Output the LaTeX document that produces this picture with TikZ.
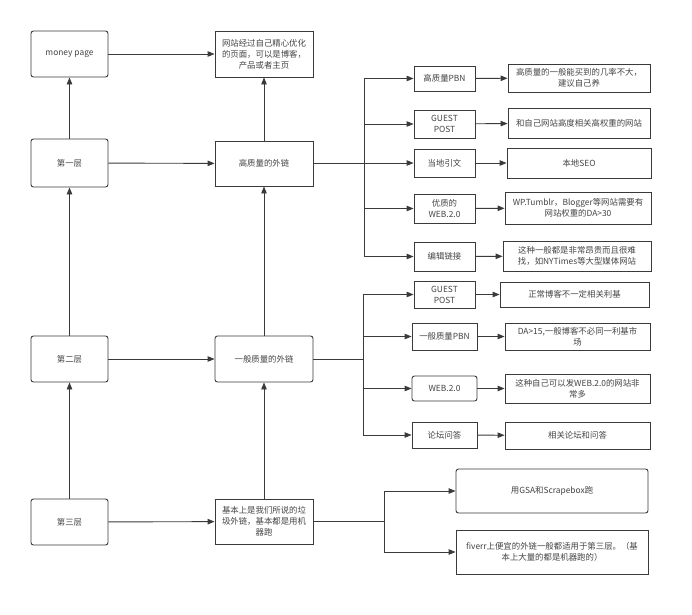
\documentclass[tikz,border=0pt]{standalone}
\usepackage{fontspec}
\setmainfont{Noto Sans CJK SC}
\newfontfamily\cjk{Noto Sans CJK SC}
\usetikzlibrary{arrows.meta}
\definecolor{lc}{HTML}{3A3A3A}
\definecolor{tc}{HTML}{444444}
\tikzset{
  box/.style={draw=lc, line width=0.9pt, fill=white, align=center, text=tc,
    font=\cjk\fontsize{8.4}{11}\selectfont, inner sep=1pt},
  rbox/.style={box, rounded corners=2.5pt},
  arr/.style={draw=lc, line width=0.9pt, -{Triangle[length=7pt,width=5.5pt]}},
  ln/.style={draw=lc, line width=0.9pt},
}
\begin{document}
\begin{tikzpicture}[x=1pt,y=-1pt]
\useasboundingbox[fill=white] (0,0) rectangle (692,614);
% left column
\node[rbox, minimum width=77, minimum height=46] (mp) at (69.5,54) {money page};
\node[rbox, minimum width=77, minimum height=48] (l1) at (69.5,163) {第一层};
\node[rbox, minimum width=77, minimum height=46] (l2) at (69.5,359) {第二层};
\node[rbox, minimum width=77, minimum height=46] (l3) at (69.5,522) {第三层};
% second column
\node[box, minimum width=98, minimum height=46] (mpd) at (264,54) {网站经过自己精心优化\\的页面，可以是博客，\\产品或者主页};
\node[box, minimum width=98, minimum height=45] (hq) at (264,163.5) {高质量的外链};
\node[rbox, minimum width=98, minimum height=46] (mq) at (264,359) {一般质量的外链};
\node[box, minimum width=98, minimum height=45] (lq) at (264,521.5) {基本上是我们所说的垃\\圾外链，基本都是用机\\器跑};
% vertical arrows
\draw[arr] (l1) -- (mp);
\draw[arr] (l2) -- (l1);
\draw[arr] (l3) -- (l2);
\draw[arr] (hq) -- (mpd);
\draw[arr] (mq) -- (hq);
\draw[arr] (lq) -- (mq);
% horizontal arrows
\draw[arr] (mp) -- (mpd);
\draw[arr] (l1) -- (hq);
\draw[arr] (l2) -- (mq);
\draw[arr] (l3) -- (lq);
% high quality branches
\node[box, minimum width=61, minimum height=25] (a1) at (444.5,78.5) {高质量PBN};
\node[box, minimum width=61, minimum height=28] (a2) at (444.5,124) {GUEST\\POST};
\node[box, minimum width=61, minimum height=28] (a3) at (444.5,163) {当地引文};
\node[box, minimum width=61, minimum height=29] (a4) at (444.5,208.5) {优质的\\WEB.2.0};
\node[box, minimum width=61, minimum height=29] (a5) at (444.5,256.5) {编辑链接};
\node[box, minimum width=142, minimum height=28] (d1) at (579,78) {高质量的一般能买到的几率不大，\\建议自己养};
\node[box, minimum width=142, minimum height=30] (d2) at (579,123) {和自己网站高度相关高权重的网站};
\node[box, minimum width=144, minimum height=30] (d3) at (579,163) {本地SEO};
\node[box, minimum width=146, minimum height=32] (d4) at (578,208) {WP.Tumblr，Blogger等网站需要有\\网站权重的DA>30};
\node[box, minimum width=148, minimum height=30] (d5) at (577,256) {这种一般都是非常昂贵而且很难\\找，如NYTimes等大型媒体网站};
\coordinate (t1) at (364,163.5);
\draw[ln] (hq.east) -- (t1);
\foreach \n in {a1,a2,a3,a4,a5} \draw[arr] (t1) |- (\n.west);
\draw[arr] (a1) -- (d1);
\draw[arr] (a2) -- (d2);
\draw[arr] (a3) -- (d3);
\draw[arr] (a4) -- (d4);
\draw[arr] (a5) -- (d5);
% medium quality branches
\node[box, minimum width=61, minimum height=27] (b1) at (444.5,294.5) {GUEST\\POST};
\node[box, minimum width=65, minimum height=27] (b2) at (444.5,336.5) {一般质量PBN};
\node[rbox, minimum width=65, minimum height=25] (b3) at (444.5,388.5) {WEB.2.0};
\node[box, minimum width=65, minimum height=26] (b4) at (444.5,435) {论坛问答};
\node[box, minimum width=149, minimum height=25] (e1) at (574.5,294.5) {正常博客不一定相关利基};
\node[box, minimum width=145, minimum height=27] (e2) at (577.5,336.5) {DA>15,一般博客不必同一利基市\\场};
\node[box, minimum width=145, minimum height=29] (e3) at (577.5,388.5) {这种自己可以发WEB.2.0的网站非\\常多};
\node[box, minimum width=145, minimum height=27] (e4) at (577.5,435.5) {相关论坛和问答};
\coordinate (t2) at (363,359);
\draw[ln] (mq.east) -- (t2);
\foreach \n in {b1,b2,b3,b4} \draw[arr] (t2) |- (\n.west);
\draw[arr] (b1) -- (e1);
\draw[arr] (b2) -- (e2);
\draw[arr] (b3) -- (e3);
\draw[arr] (b4) -- (e4);
% low quality branches
\node[rbox, minimum width=192, minimum height=44] (c1) at (552,491) {用GSA和Scrapebox跑};
\node[box, minimum width=192, minimum height=44] (c2) at (552,552) {fiverr上便宜的外链一般都适用于第三层。（基\\本上大量的都是机器跑的）};
\coordinate (t3) at (384,521.5);
\draw[ln] (lq.east) -- (t3);
\draw[arr] (t3) |- (c1.west);
\draw[arr] (t3) |- (c2.west);
\end{tikzpicture}
\end{document}
